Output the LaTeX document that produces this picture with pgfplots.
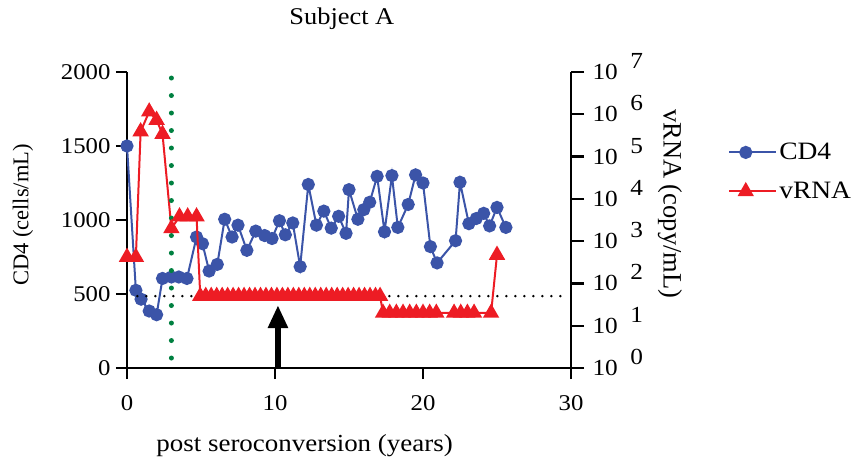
\documentclass[border=0pt]{standalone}
\usepackage{pgfplots}
\pgfplotsset{compat=1.18}
\usepackage{fontspec}
\setmainfont{Liberation Serif}[FakeStretch=1.1]
\newfontfamily\plainserif{Liberation Serif}
\usetikzlibrary{arrows.meta}
\definecolor{cdblue}{RGB}{59,84,168}
\definecolor{vred}{RGB}{237,28,36}
\definecolor{dgreen}{RGB}{0,128,64}
\begin{document}
\begin{tikzpicture}
\path[use as bounding box] (-127pt,-90pt) rectangle (729pt,368pt);
\begin{axis}[
  scale only axis, width=444pt, height=296pt,
  xmin=0, xmax=30, ymin=0, ymax=2000,
  axis x line*=bottom, axis y line*=left,
  axis line style={-, line width=2.2pt},
  every tick/.style={line width=2.2pt, black},
  tick align=outside, major tick length=11pt,
  xtick={0,10,20,30}, xticklabels={0,10,20,30},
  ytick={0,500,1000,1500,2000}, yticklabels={0,500,1000,1500,2000},
  tick label style={font=\fontsize{22.5}{27}\selectfont},
  xticklabel style={anchor=center, yshift=-24pt},
  yticklabel style={anchor=east, xshift=-2pt},
  title={Subject A},
  title style={font=\fontsize{24}{28}\selectfont, at={(rel axis cs:0.484,1)}, anchor=center, yshift=47pt},
  xlabel={post seroconversion (years)},
  every axis x label/.style={at={(rel axis cs:0.40,0)}, anchor=center, yshift=-78pt, font=\fontsize{24.5}{28}\selectfont},
  ylabel={CD4 (cells/mL)},
  every axis y label/.style={at={(rel axis cs:0,0.517)}, anchor=center, xshift=-104pt, rotate=90, font=\plainserif\fontsize{22.5}{27}\selectfont},
  clip=false,
]
\addplot[color=cdblue, line width=2pt, mark=*, mark size=5.6pt, mark options={solid, fill=cdblue, draw=cdblue}] coordinates {
(0,1500)(0.6,525)(0.95,465)(1.5,385)(2.0,360)(2.4,605)(3.0,615)(3.5,615)(4.05,605)
(4.7,885)(5.1,840)(5.55,655)(6.1,700)(6.6,1005)(7.1,885)(7.5,965)(8.1,795)(8.7,925)
(9.3,895)(9.8,875)(10.3,995)(10.7,900)(11.2,980)(11.7,685)(12.25,1240)(12.8,965)
(13.3,1060)(13.8,945)(14.3,1025)(14.8,910)(15.0,1205)(15.6,1005)(16.0,1070)(16.4,1120)
(16.9,1295)(17.4,920)(17.9,1300)(18.3,950)(19.0,1105)(19.5,1305)(20.0,1250)(20.5,820)
(20.95,710)(22.2,860)(22.5,1255)(23.1,975)(23.6,1010)(24.1,1045)(24.5,960)(25.0,1085)(25.6,950)
};
\end{axis}
\begin{axis}[
  scale only axis, width=444pt, height=296pt,
  xmin=0, xmax=30, ymode=log, ymin=1, ymax=1e7,
  axis x line=none, axis y line*=right,
  axis line style={-, line width=2.2pt},
  every tick/.style={line width=2.2pt, black},
  tick align=outside, major tick length=13pt,
  yminorticks=false,
  ytick={1,10,100,1000,10000,100000,1000000,10000000},
  yticklabels={{10\hspace{0.55em}\raisebox{11pt}{0}},{10\hspace{0.55em}\raisebox{11pt}{1}},{10\hspace{0.55em}\raisebox{11pt}{2}},{10\hspace{0.55em}\raisebox{11pt}{3}},{10\hspace{0.55em}\raisebox{11pt}{4}},{10\hspace{0.55em}\raisebox{11pt}{5}},{10\hspace{0.55em}\raisebox{11pt}{6}},{10\hspace{0.55em}\raisebox{11pt}{7}}},
  yticklabel style={anchor=base west, xshift=5pt, yshift=-7.5pt, font=\fontsize{23}{27}\selectfont},
  ylabel={vRNA (copy/mL)},
  every axis y label/.style={at={(rel axis cs:1,0.555)}, anchor=center, xshift=99pt, rotate=-90, font=\plainserif\fontsize{26.5}{30}\selectfont},
  clip=false,
  legend style={draw=none, fill=none, at={(rel axis cs:1.347,0.773)}, anchor=north west, font=\fontsize{25}{30}\selectfont, /tikz/row sep=17pt},
  legend cell align=left,
  legend image code/.code={\draw[mark repeat=2,mark phase=2,#1] plot coordinates {(0pt,0pt)(16.5pt,0pt)(33pt,0pt)}; \path (0pt,0pt) -- (47pt,0pt);},
]
\addlegendimage{color=cdblue, line width=2pt, mark=*, mark size=5.6pt, mark options={solid, fill=cdblue, draw=cdblue}}
\addlegendentry{CD4}
\addplot[forget plot, black, line width=2.6pt, line cap=round, dash pattern=on 0pt off 9pt] coordinates {(0.7,50)(29.8,50)};
\addplot[color=vred, line width=2pt, mark=triangle*, mark size=7.5pt, mark options={solid, fill=vred, draw=vred}] coordinates {
(0,420)(0.6,420)(0.92,390000)(1.5,1150000)(2.0,730000)(2.4,340000)(3.0,2000)(3.55,3800)(4.1,3800)(4.7,3800)
(4.95,50)(5.32,50)(5.69,50)(6.06,50)(6.43,50)(6.80,50)(7.17,50)(7.54,50)(7.91,50)(8.28,50)(8.65,50)
(9.02,50)(9.39,50)(9.76,50)(10.13,50)(10.50,50)(10.87,50)(11.24,50)(11.61,50)(11.98,50)(12.35,50)
(12.72,50)(13.09,50)(13.46,50)(13.83,50)(14.20,50)(14.57,50)(14.94,50)(15.31,50)(15.68,50)(16.05,50)
(16.42,50)(16.79,50)(17.10,50)
(17.3,20)(17.75,20)(18.2,20)(18.65,20)(19.1,20)(19.55,20)(20.0,20)(20.45,20)(20.9,20)
(22.1,20)(22.55,20)(23.0,20)(23.45,20)(24.6,20)(25.0,470)
};
\addlegendentry{vRNA}
\addplot[forget plot, dgreen, line width=5pt, line cap=round, dash pattern=on 0pt off 17.5pt] coordinates {(3.0,1.72)(3.0,10000000)};
\draw[line width=6pt, black, -{Triangle[width=19pt,length=23pt]}] (axis cs:10.2,1) -- (axis cs:10.2,30.6);
\end{axis}
\end{tikzpicture}
\end{document}
